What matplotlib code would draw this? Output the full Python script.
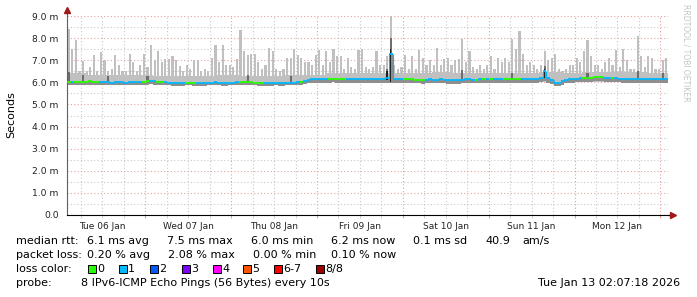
import numpy as np
import pandas as pd
import matplotlib
matplotlib.use("Agg")
import matplotlib.pyplot as plt
import matplotlib.dates as mdates
from matplotlib.patches import Rectangle

##############################################################################

# Data (one value per hour)

start = "2026-01-06 02:07:18"

# median rtt (ms)
med = [6.02, 6.03, 6.00, 6.01, 6.02, 6.03, 6.05, 6.02, 6.00, 6.00, 6.01, 6.00,
       5.99, 6.00, 6.01, 6.00, 5.99, 6.00, 6.02, 6.03, 6.01, 6.02, 6.04, 6.05,
       6.04, 6.03, 6.02, 6.00, 5.99, 5.98, 5.98, 5.97, 5.98, 5.98, 5.99, 5.98,
       5.98, 5.97, 5.98, 5.98, 5.99, 6.00, 5.99, 5.98, 5.98, 5.98, 5.99, 6.00,
       6.02, 6.03, 6.02, 6.00, 5.99, 5.98, 5.98, 5.97, 5.97, 5.98, 5.98, 5.97,
       5.98, 5.98, 5.98, 5.99, 6.00, 6.02, 6.06, 6.10, 6.13, 6.15, 6.15, 6.16,
       6.16, 6.17, 6.17, 6.16, 6.16, 6.15, 6.15, 6.16, 6.15, 6.15, 6.14, 6.15,
       6.15, 6.14, 6.15, 6.15, 6.16, 6.20, 7.30, 6.15, 6.14, 6.14, 6.15, 6.15,
       6.13, 6.12, 6.12, 6.11, 6.12, 6.13, 6.12, 6.12, 6.13, 6.12, 6.11, 6.11,
       6.10, 6.11, 6.12, 6.13, 6.13, 6.12, 6.12, 6.13, 6.14, 6.15, 6.15, 6.15,
       6.15, 6.14, 6.15, 6.16, 6.15, 6.14, 6.15, 6.15, 6.16, 6.15, 6.15, 6.14,
       6.20, 6.50, 6.20, 6.10, 5.98, 5.97, 6.05, 6.12, 6.15, 6.16, 6.17, 6.18,
       6.18, 6.20, 6.20, 6.22, 6.23, 6.22, 6.20, 6.20, 6.18, 6.18, 6.17, 6.16,
       6.16, 6.15, 6.15, 6.16, 6.16, 6.15, 6.15, 6.16, 6.16, 6.16, 6.15, 6.15]

# lowest ping (ms)
lo = [5.88, 5.88, 5.87, 5.88, 5.88, 5.89, 5.90, 5.88, 5.87, 5.87, 5.88, 5.87,
      5.86, 5.87, 5.88, 5.87, 5.86, 5.87, 5.89, 5.89, 5.88, 5.88, 5.90, 5.91,
      5.90, 5.89, 5.88, 5.87, 5.86, 5.85, 5.85, 5.85, 5.85, 5.86, 5.86, 5.85,
      5.85, 5.85, 5.85, 5.86, 5.86, 5.87, 5.86, 5.85, 5.85, 5.86, 5.86, 5.87,
      5.88, 5.89, 5.88, 5.87, 5.86, 5.85, 5.85, 5.85, 5.85, 5.85, 5.86, 5.85,
      5.85, 5.86, 5.86, 5.87, 5.88, 5.90, 5.94, 5.96, 5.98, 5.99, 5.99, 5.99,
      5.99, 5.99, 6.00, 5.99, 5.99, 5.98, 5.98, 5.99, 5.98, 5.98, 5.97, 5.98,
      5.98, 5.97, 5.98, 5.98, 5.99, 5.99, 5.95, 5.98, 5.97, 5.97, 5.97, 5.97,
      5.96, 5.95, 5.95, 5.94, 5.95, 5.96, 5.95, 5.95, 5.96, 5.95, 5.94, 5.94,
      5.93, 5.94, 5.95, 5.96, 5.96, 5.95, 5.95, 5.96, 5.97, 5.98, 5.98, 5.98,
      5.98, 5.97, 5.98, 5.99, 5.98, 5.97, 5.98, 5.98, 5.99, 5.98, 5.98, 5.97,
      6.00, 6.05, 5.98, 5.92, 5.84, 5.83, 5.90, 5.95, 5.98, 5.99, 6.00, 6.01,
      6.01, 6.02, 6.02, 6.04, 6.05, 6.04, 6.02, 6.02, 6.01, 6.01, 6.00, 5.99,
      5.99, 5.98, 5.98, 5.99, 5.99, 5.98, 5.98, 5.99, 5.99, 5.99, 5.98, 5.98]

# highest ping (ms)
hi = [8.40, 7.50, 7.90, 6.50, 6.95, 6.50, 6.70, 7.25, 6.50, 7.35, 7.00, 6.50,
      6.60, 7.25, 6.80, 6.50, 6.50, 7.30, 6.90, 6.50, 6.80, 7.30, 6.70, 7.70,
      7.00, 7.40, 6.90, 7.05, 7.05, 7.20, 7.00, 6.75, 6.50, 6.80, 6.60, 7.00,
      7.00, 6.50, 6.60, 6.50, 7.10, 7.70, 6.90, 7.70, 6.80, 6.80, 6.70, 7.05,
      8.35, 7.40, 7.25, 7.30, 7.30, 6.90, 6.60, 6.80, 7.55, 7.40, 6.60, 6.50,
      6.60, 7.10, 7.10, 7.50, 7.25, 7.10, 6.90, 6.90, 6.80, 7.25, 7.45, 6.80,
      7.40, 6.90, 7.50, 7.20, 7.20, 6.60, 7.10, 6.70, 6.60, 7.45, 7.50, 6.70,
      6.60, 6.70, 7.40, 6.80, 6.80, 7.20, 9.00, 6.80, 6.60, 6.70, 7.25, 6.60,
      7.20, 6.60, 7.45, 7.10, 6.80, 7.00, 6.80, 7.55, 6.80, 7.05, 7.10, 6.80,
      7.00, 7.05, 7.95, 6.90, 7.40, 6.70, 6.60, 6.80, 6.60, 6.80, 7.20, 6.60,
      7.10, 6.90, 7.10, 6.90, 7.95, 7.50, 8.30, 7.30, 6.80, 6.90, 6.80, 6.60,
      6.80, 7.40, 7.00, 7.10, 7.30, 6.60, 6.50, 6.60, 6.80, 6.80, 7.10, 6.90,
      7.40, 7.90, 7.20, 6.80, 6.80, 6.60, 6.90, 7.10, 6.80, 7.45, 6.70, 7.50,
      7.00, 6.60, 6.60, 8.10, 7.20, 6.70, 7.20, 7.10, 6.60, 6.60, 7.00, 7.10]

# lost pings out of 8
loss = [0, 1, 0, 0, 0, 0, 0, 0, 0, 1, 1, 1, 1, 1, 1, 1, 1, 1, 1, 1, 1, 0, 0, 1,
        1, 0, 0, 1, 1, 1, 1, 1, 1, 0, 0, 0, 1, 1, 1, 1, 1, 1, 1, 1, 1, 1, 1, 1,
        0, 0, 0, 0, 0, 0, 0, 1, 1, 1, 1, 1, 1, 1, 1, 1, 1, 0, 1, 1, 1, 1, 1, 1,
        1, 0, 0, 0, 0, 0, 1, 1, 1, 1, 1, 1, 1, 1, 1, 1, 1, 1, 1, 1, 1, 1, 0, 0,
        0, 0, 0, 0, 1, 1, 1, 1, 1, 1, 1, 1, 1, 1, 1, 1, 1, 1, 0, 1, 0, 1, 0, 1,
        1, 1, 0, 0, 0, 0, 0, 1, 1, 1, 1, 1, 1, 1, 1, 1, 1, 1, 1, 1, 1, 1, 1, 1,
        0, 0, 0, 0, 0, 0, 1, 1, 0, 1, 1, 1, 1, 1, 1, 1, 1, 1, 1, 1, 1, 1, 1, 1]

# body of the smoke, one value per 6 hours
body_lo = [5.92] * 11 + [6.00] * 17
body_hi = [6.40, 6.35, 6.35, 6.35, 6.30, 6.30, 6.30, 6.35, 6.30, 6.30, 6.32,
           6.35, 6.40, 6.42, 6.42, 6.40, 6.42, 6.45, 6.42, 6.42, 6.40, 6.42,
           6.45, 6.42, 6.45, 6.48, 6.45, 6.42]

# darker smoke spikes (hour, top)
dark_h = [0, 4, 11, 22, 50, 62, 89, 90, 110, 124, 133, 145, 159, 166]
dark_top = [6.45, 6.35, 6.30, 6.30, 6.35, 6.30, 6.60, 8.00, 6.55, 6.40, 6.75,
            6.40, 6.50, 6.40]
# near black core of the big spikes (hour, bottom, top)
core_h = [89, 90, 133]
core_lo = [6.10, 6.00, 6.20]
core_hi = [6.50, 7.50, 6.60]

ytick_vals = [0, 1, 2, 3, 4, 5, 6, 7, 8, 9]
ytick_labels = ["0.0", "1.0 m", "2.0 m", "3.0 m", "4.0 m", "5.0 m", "6.0 m",
                "7.0 m", "8.0 m", "9.0 m"]

loss_labels = ["0", "1", "2", "3", "4", "5", "6-7", "8/8"]
loss_colors = ["#26ff00", "#00b8ff", "#0059ff", "#7e00ff", "#ff00ff",
               "#ff5500", "#ff0000", "#a00000"]

stats_rtt = ["6.1 ms avg", "7.5 ms max", "6.0 ms min", "6.2 ms now",
             "0.1 ms sd", "40.9", "am/s"]
stats_loss = ["0.20 % avg", "2.08 % max", "0.00 % min", "0.10 % now"]

##############################################################################

# Plot

W, H = 697, 297
fig = plt.figure(figsize=(W/100, H/100), dpi=100)
ax = fig.add_axes([67/W, 1-215/H, 601/W, 199/H])

edges = mdates.date2num(pd.date_range(start, periods=len(med)+1, freq="h")
                        .to_pydatetime())
t0 = edges[:-1]
hw = 1/24  # one hour in days
med = np.array(med)
lo = np.array(lo)
hi = np.array(hi)

light = "#c0c0c0"
mid = "#8e8e8e"

# smoke body (6 hour blocks)
e6 = edges[::6][:len(body_hi)]
ax.bar(e6, np.array(body_hi)-np.array(body_lo), bottom=body_lo, width=6*hw,
       align="edge", color=light, lw=0)
# light spikes
ax.bar(t0 + 0.2*hw, hi-med, bottom=med, width=0.6*hw, align="edge",
       color=light, lw=0)
# darker band under the median
ax.bar(t0, med-lo, bottom=lo, width=hw, align="edge", color=mid, lw=0)
# darker spikes
dh = np.array(dark_h)
ax.bar(t0[dh] + 0.2*hw, np.array(dark_top)-med[dh], bottom=med[dh],
       width=0.6*hw, align="edge", color="#6e6e6e", lw=0)
ch = np.array(core_h)
ax.bar(t0[ch] + 0.3*hw, np.array(core_hi)-np.array(core_lo), bottom=core_lo,
       width=0.4*hw, align="edge", color="#1e1e1e", lw=0)

# median line colored by loss
cols = [loss_colors[l] for l in loss]
ax.hlines(med, edges[:-1], edges[1:], colors=cols, lw=1.3, zorder=3)
ax.vlines(edges[1:-1], med[:-1], med[1:], colors=cols[1:], lw=0.8, zorder=3)

# axes limits and grid
ax.set_xlim(edges[0], edges[-1])
ax.set_ylim(0, 9)
ax.set_yticks(ytick_vals, ytick_labels)
ax.set_yticks(np.arange(0.5, 9, 1), minor=True)
ax.xaxis.set_major_locator(mdates.DayLocator())
ax.xaxis.set_minor_locator(mdates.HourLocator(byhour=[6, 12, 18]))
ax.xaxis.set_major_formatter(plt.NullFormatter())


def day_label(x, pos):
    d = mdates.num2date(x)
    return d.strftime("%a %d %b") if d.hour == 12 else ""


ax.xaxis.set_minor_formatter(plt.FuncFormatter(day_label))
ax.grid(which="major", color="#e6a0a0", ls=(0, (1, 2)), lw=0.8)
ax.grid(which="minor", color="#c8c8c8", ls=(0, (1, 2)), lw=0.8)
ax.set_axisbelow(True)

ax.tick_params(axis="y", which="both", length=0, pad=6, labelsize=6.6,
               labelcolor="#222222")
ax.tick_params(axis="x", which="major", length=2, color="#e6a0a0")
ax.tick_params(axis="x", which="minor", length=2, color="#c8c8c8",
               labelsize=6.5, pad=3, labelcolor="#222222")

for s in ["top", "right"]:
    ax.spines[s].set_visible(False)
ax.spines["left"].set_color("#606060")
ax.spines["bottom"].set_color("#000000")

# axis arrows
arrow = "#a01818"
ax.plot([0, 0], [1, 1.03], color="#606060", lw=0.8, transform=ax.transAxes,
        clip_on=False)
ax.plot(0, 1.03, marker="^", ms=4, color=arrow, transform=ax.transAxes,
        clip_on=False)
ax.plot([1, 1.008], [0, 0], color="#000000", lw=0.8, transform=ax.transAxes,
        clip_on=False)
ax.plot(1.008, 0, marker=">", ms=4, color=arrow, transform=ax.transAxes,
        clip_on=False)

fig.text(11/W, 1-115/H, "Seconds", rotation=90, fontsize=8, ha="center",
         va="center")
fig.text(686/W, 1-53/H, "RRDTOOL / TOBI OETIKER", rotation=270,
         fontsize=5.5, color="#c4c4c4", ha="center", va="center")

# footer
fs = 8
rows = [1-241/H, 1-255/H, 1-269/H, 1-283/H]
fig.text(16/W, rows[0], "median rtt:", fontsize=fs, va="center")
for x, s in zip([87, 167, 251, 331, 413, 485, 522], stats_rtt):
    fig.text(x/W, rows[0], s, fontsize=fs, va="center")
fig.text(16/W, rows[1], "packet loss:", fontsize=fs, va="center")
for x, s in zip([87, 168, 253, 331], stats_loss):
    fig.text(x/W, rows[1], s, fontsize=fs, va="center")
fig.text(16/W, rows[2], "loss color:", fontsize=fs, va="center")
for x, s, c in zip([88, 119, 150, 182, 213, 243, 274, 316],
                   loss_labels, loss_colors):
    fig.patches.append(Rectangle((x/W, rows[2]-4/H), 8/W, 8/H,
                                 transform=fig.transFigure, facecolor=c,
                                 edgecolor="black", lw=0.7))
    fig.text((x+9)/W, rows[2], s, fontsize=fs, va="center")
fig.text(16/W, rows[3], "probe:", fontsize=fs, va="center")
fig.text(81/W, rows[3], "8 IPv6-ICMP Echo Pings (56 Bytes) every 10s",
         fontsize=fs, va="center")
fig.text(680/W, rows[3], "Tue Jan 13 02:07:18 2026", fontsize=fs,
         va="center", ha="right")

fig.savefig("out.png", dpi=100)
